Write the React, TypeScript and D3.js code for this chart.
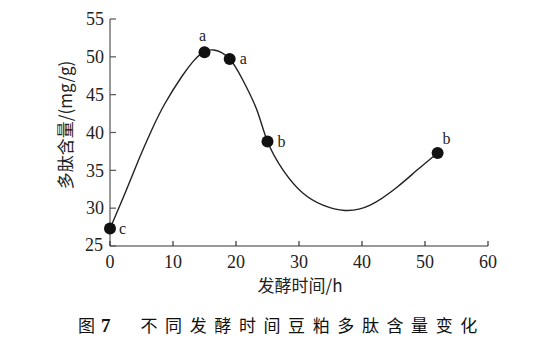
import React from "react";
import * as d3 from "d3";

// measured means
const hours = [0, 15, 19, 25, 52];
const peptide = [27.3, 50.6, 49.7, 38.8, 37.3];
const letters = ["c", "a", "a", "b", "b"];
// fitted trend curve
const fitHours = [0, 2.4, 4.5, 6.6, 8.7, 11.4, 13.2, 14.6, 16.5, 19, 21.1, 23.3, 25, 27.5, 30.6, 33.8, 37.3, 41.3, 45.6, 48.7, 52];
const fitValues = [27.3, 32.0, 36.3, 40.3, 43.8, 47.4, 49.4, 50.5, 50.9, 49.7, 46.9, 43.0, 38.8, 35.0, 32.0, 30.4, 29.7, 30.4, 32.8, 35.0, 37.3];
const xTicks = [0, 10, 20, 30, 40, 50, 60];
const yTicks = [25, 30, 35, 40, 45, 50, 55];

const W = 546;
const H = 357;
const serif = "'Liberation Serif', 'Times New Roman', serif";
const cjk = "'Noto Sans CJK SC', sans-serif";

export default function App() {
  const x = d3.scaleLinear().domain([0, 60]).range([110, 488]);
  const y = d3.scaleLinear().domain([25, 55]).range([246, 19]);
  const pts: [number, number][] = hours.map((h, i) => [h, peptide[i]]);
  const fit: [number, number][] = fitHours.map((h, i) => [h, fitValues[i]]);
  const line = d3
    .line<[number, number]>()
    .x((d) => x(d[0]))
    .y((d) => y(d[1]))
    .curve(d3.curveNatural);

  const labelPos = [
    { dx: 9, dy: 5, anchor: "start" },
    { dx: -2, dy: -11, anchor: "middle" },
    { dx: 10, dy: 5, anchor: "start" },
    { dx: 10, dy: 5, anchor: "start" },
    { dx: 5, dy: -9, anchor: "start" },
  ];

  return (
    <svg
      width={W}
      height={H}
      style={{ position: "absolute", left: 0, top: 0, background: "#fff" }}
    >
      <rect width={W} height={H} fill="#fff" />
      <line x1={110} x2={110} y1={y(55)} y2={246} stroke="#555" strokeWidth={1.2} />
      <line x1={110} x2={x(60)} y1={246} y2={246} stroke="#333" strokeWidth={1.2} />
      {yTicks.map((t) => (
        <g key={"y" + t}>
          <line x1={110} x2={116} y1={y(t)} y2={y(t)} stroke="#555" strokeWidth={1.2} />
          <text
            x={t === 25 ? 103 : 104}
            y={t === 25 ? y(t) - 1 : y(t)}
            dy="0.35em"
            textAnchor="end"
            fontFamily={serif}
            fontSize={18}
            fill="#222"
          >
            {t}
          </text>
        </g>
      ))}
      {xTicks.map((t) => (
        <g key={"x" + t}>
          <line x1={x(t)} x2={x(t)} y1={246} y2={241} stroke="#333" strokeWidth={1.2} />
          <text
            x={x(t)}
            y={268}
            textAnchor="middle"
            fontFamily={serif}
            fontSize={18}
            fill="#222"
          >
            {t}
          </text>
        </g>
      ))}
      <path d={line(fit) || ""} fill="none" stroke="#222" strokeWidth={1.4} />
      {pts.map((p, i) => (
        <g key={"p" + i}>
          <circle cx={x(p[0])} cy={y(p[1])} r={6} fill="#111" />
          <text
            x={x(p[0]) + labelPos[i].dx}
            y={y(p[1]) + labelPos[i].dy}
            textAnchor={labelPos[i].anchor as any}
            fontFamily={serif}
            fontSize={16}
            fill="#222"
          >
            {letters[i]}
          </text>
        </g>
      ))}
      <text
        x={300}
        y={292}
        textAnchor="middle"
        fontFamily={cjk}
        fontSize={17}
        fill="#222"
      >
        发酵时间/h
      </text>
      <text
        transform={`translate(72,125) rotate(-90)`}
        textAnchor="middle"
        fontFamily={cjk}
        fontSize={17}
        fill="#222"
      >
        多肽含量/(mg/g)
      </text>
      <text x={78} y={332} fontFamily={cjk} fontSize={17} fill="#111">
        图
        <tspan fontFamily={serif} fontWeight="bold" fontSize={19} dx={6}>7</tspan>
        <tspan dx={30} letterSpacing={7.6}>不同发酵时间豆粕多肽含量变化</tspan>
      </text>
    </svg>
  );
}
